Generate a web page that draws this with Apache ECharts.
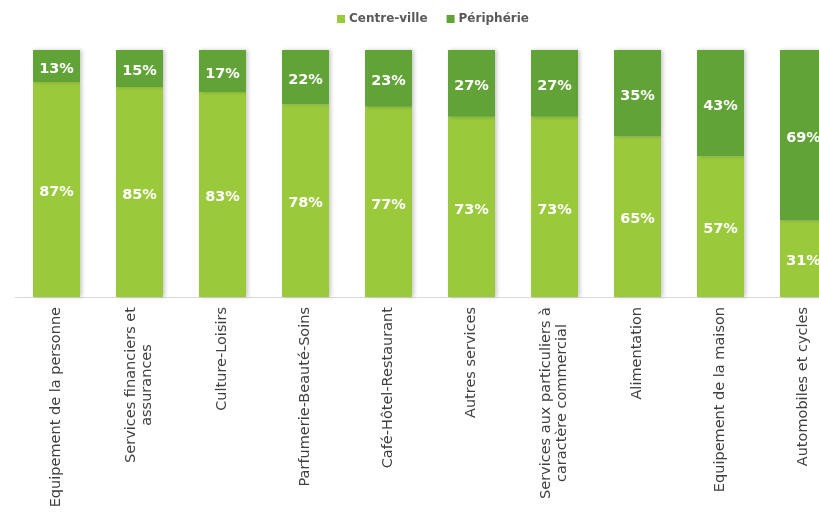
<!DOCTYPE html>
<html><head><meta charset="utf-8">
<script src="https://cdn.jsdelivr.net/npm/echarts@6/dist/echarts.min.js"></script>
<style>html,body{margin:0;padding:0;background:#fff}#c{width:819px;height:519px}</style>
</head><body><div id="c"></div>
<script>
const categories = [
  "Equipement de la personne",
  "Services financiers et\nassurances",
  "Culture-Loisirs",
  "Parfumerie-Beauté-Soins",
  "Café-Hôtel-Restaurant",
  "Autres services",
  "Services aux particuliers à\ncaractère commercial",
  "Alimentation",
  "Equipement de la maison",
  "Automobiles et cycles"
];
const centreVille = [87, 85, 83, 78, 77, 73, 73, 65, 57, 31];
const peripherie = [13, 15, 17, 22, 23, 27, 27, 35, 43, 69];
const seriesNames = ["Centre-ville", "Périphérie"];

const FONT = "'DejaVu Sans', sans-serif";
const LFS = 14.5;
const cv = document.createElement('canvas').getContext('2d');
cv.font = LFS + "px 'DejaVu Sans'";
const rich = {};
categories.forEach((c, i) => {
  const lines = c.split('\n');
  const w = Math.max(...lines.map(l => cv.measureText(l).width));
  rich['m' + i] = {width: Math.ceil(w), align: 'center', fontSize: LFS, fontFamily: FONT, color: '#404040', lineHeight: 16};
});
function labelFmt(v, i) {
  const lines = v.split('\n');
  if (lines.length === 1) return v;
  return lines.map(l => '{m' + i + '|' + l + '}').join('\n');
}
const chart = echarts.init(document.getElementById('c'));
const barLabel = {show: true, position: 'inside', offset: [0, 3], color: '#fff', fontWeight: 'bold', fontSize: 14.5, fontFamily: FONT, formatter: p => p.value + '%'};
const shadow = {shadowColor: 'rgba(0,0,0,0.22)', shadowBlur: 4, shadowOffsetX: 2, shadowOffsetY: 0};
chart.setOption({
  animation: false,
  legend: {
    top: 8, left: 332, itemWidth: 8, itemHeight: 8, itemGap: 19, icon: 'rect',
    textStyle: {color: '#595959', fontWeight: 'bold', fontSize: 12, fontFamily: FONT, padding: [0, 0, 0, -1]},
    data: seriesNames
  },
  grid: {left: 15, top: 50, width: 830, height: 247, containLabel: false, outerBoundsMode: 'none'},
  xAxis: {
    type: 'category', data: categories,
    axisLine: {lineStyle: {color: '#d9d9d9', width: 1}},
    axisTick: {show: false},
    axisLabel: {
      rotate: 90, interval: 0, margin: 10, color: '#404040', fontSize: LFS, fontFamily: FONT,
      lineHeight: 16, formatter: labelFmt, rich: rich
    }
  },
  yAxis: {type: 'value', min: 0, max: 100, show: false, splitLine: {show: false}},
  series: [
    {name: seriesNames[0], type: 'bar', stack: 't', barWidth: 47, data: centreVille,
     itemStyle: Object.assign({color: '#9aca3c'}, shadow), label: barLabel},
    {name: seriesNames[1], type: 'bar', stack: 't', barWidth: 47, data: peripherie,
     itemStyle: Object.assign({color: '#62a338'}, shadow), label: barLabel}
  ]
});
</script></body></html>
